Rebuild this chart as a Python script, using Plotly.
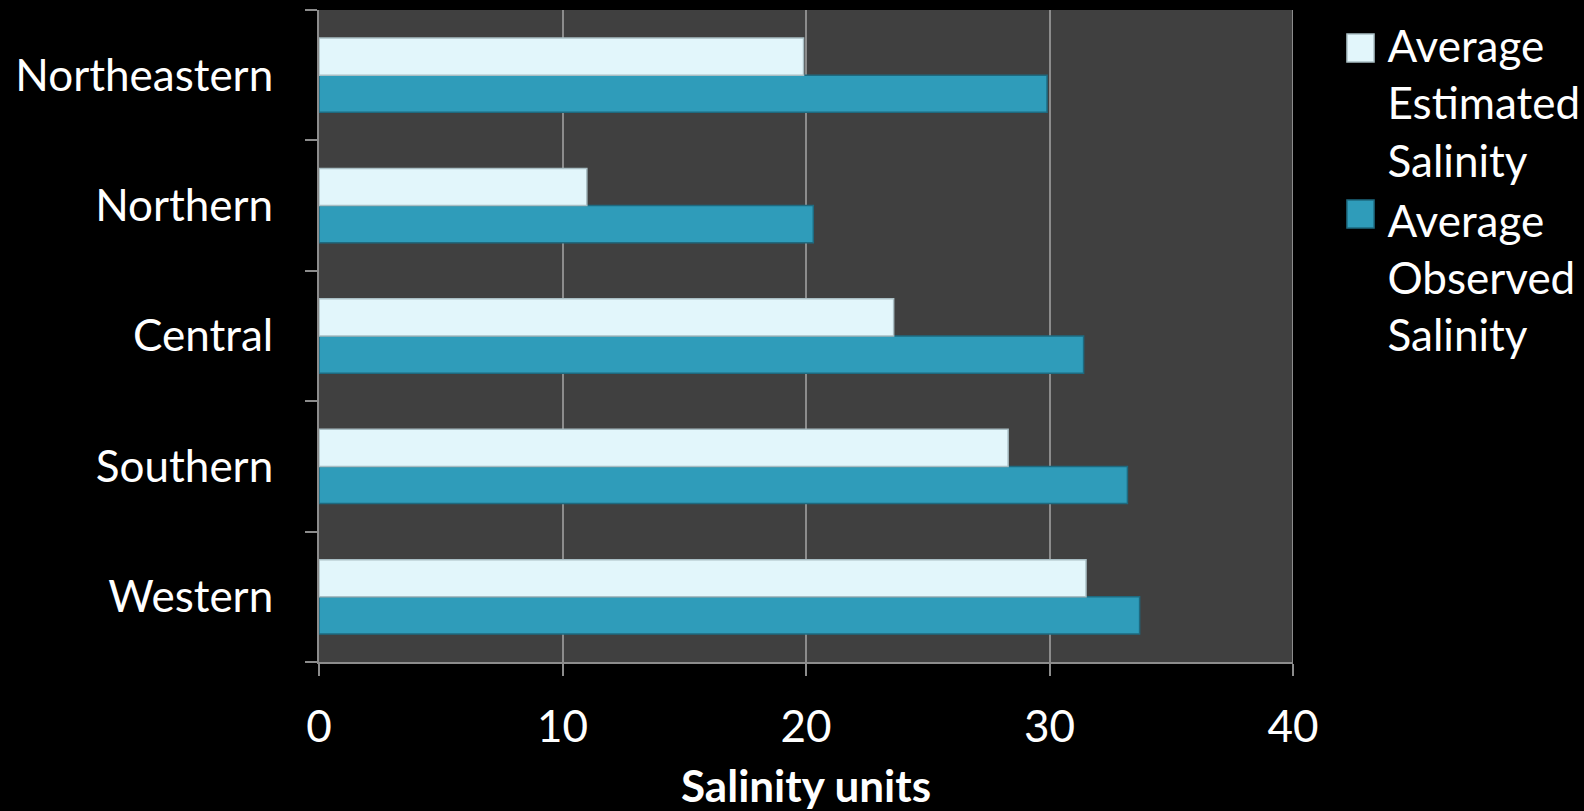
import plotly.graph_objects as go

regions = ["Western", "Southern", "Central", "Northern", "Northeastern"]
estimated = [31.5, 28.3, 23.6, 11.0, 19.9]
observed = [33.7, 33.2, 31.4, 20.3, 29.9]
x_ticks = [0, 10, 20, 30, 40]
series_names = ["Average<br>Estimated<br>Salinity", "Average<br>Observed<br>Salinity"]

FONT = "Lato"
FS = 44
OBS_COLOR = "#2F9CBA"
OBS_EDGE = "#1E6A80"
EST_COLOR = "#E2F6FB"
EST_EDGE = "#A9BEC4"

fig = go.Figure()
fig.add_trace(go.Bar(
    y=regions, x=observed, orientation="h",
    name=series_names[1], showlegend=False,
    marker=dict(color=OBS_COLOR, line=dict(color=OBS_EDGE, width=1.5)),
))
fig.add_trace(go.Bar(
    y=regions, x=estimated, orientation="h",
    name=series_names[0], showlegend=False,
    marker=dict(color=EST_COLOR, line=dict(color=EST_EDGE, width=1.5)),
))
# legend text entries (swatches drawn as larger squares below)
for nm in series_names:
    fig.add_trace(go.Scatter(
        x=[None], y=[None], mode="markers", name=nm,
        marker=dict(symbol="square", size=1, color="rgba(0,0,0,0)"),
    ))

fig.update_layout(
    width=1584, height=811,
    paper_bgcolor="black", plot_bgcolor="#404040",
    margin=dict(l=319, r=291, t=10, b=149, autoexpand=False),
    barmode="group", bargap=0.43, bargroupgap=0,
    font=dict(family=FONT, color="white", size=FS),
    legend=dict(
        x=1.056, xanchor="left", y=1.0, yanchor="top",
        traceorder="normal", valign="top",
        font=dict(family=FONT, size=FS, color="white"),
        bgcolor="rgba(0,0,0,0)",
        tracegroupgap=0,
    ),
    showlegend=True,
)
fig.update_xaxes(
    range=[0, 40], tickvals=x_ticks, ticktext=[str(v) for v in x_ticks],
    showgrid=True, gridcolor="#8C8C8C", gridwidth=1.5,
    showline=True, linecolor="#8C8C8C", linewidth=2,
    ticks="outside", ticklen=12, tickcolor="#8C8C8C", tickwidth=2,
    ticklabelstandoff=13,
    zeroline=False,
    title=dict(text="<b>Salinity units</b>", font=dict(family=FONT, size=FS, color="white"), standoff=22),
    tickfont=dict(family=FONT, size=FS, color="white"),
)
fig.update_yaxes(
    categoryorder="array", categoryarray=regions,
    showline=True, linecolor="#8C8C8C", linewidth=2,
    ticks="outside", ticklen=12, tickcolor="#8C8C8C", tickwidth=2,
    tickson="boundaries", ticklabelstandoff=35,
    showgrid=False, zeroline=False,
    tickfont=dict(family=FONT, size=FS, color="white"),
)
fig.add_shape(type="line", xref="x", yref="paper", x0=40, x1=40, y0=0, y1=1,
              line=dict(color="#8C8C8C", width=2))
# legend swatches
fig.add_shape(type="rect", xref="paper", yref="paper", x0=1.0554, x1=1.0832, y0=0.9202, y1=0.9632,
              fillcolor=EST_COLOR, line=dict(color=EST_EDGE, width=1.5))
fig.add_shape(type="rect", xref="paper", yref="paper", x0=1.0554, x1=1.0832, y0=0.6656, y1=0.7086,
              fillcolor=OBS_COLOR, line=dict(color=OBS_EDGE, width=1.5))

fig.write_html("out.html")
